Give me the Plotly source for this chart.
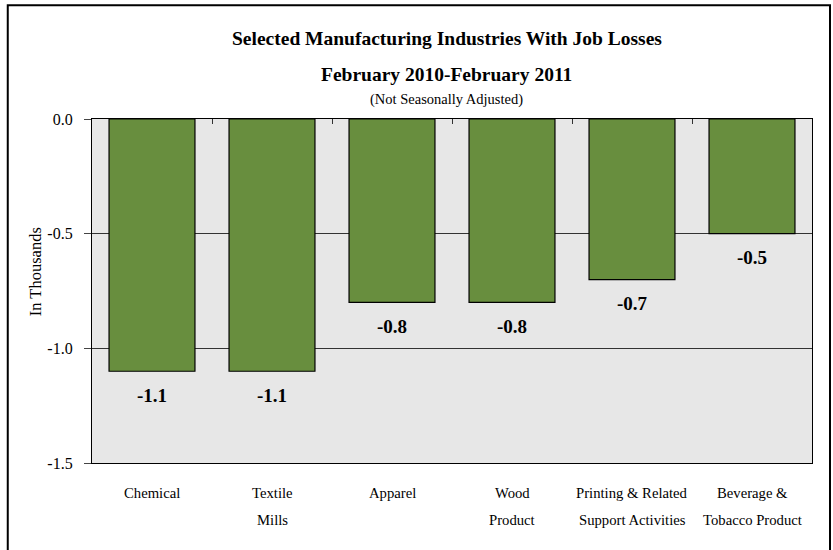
import plotly.graph_objects as go

categories = ["Chemical", "Textile<br>Mills", "Apparel", "Wood<br>Product",
              "Printing & Related<br>Support Activities", "Beverage &<br>Tobacco Product"]
values = [-1.1, -1.1, -0.8, -0.8, -0.7, -0.5]
value_labels = ["-1.1", "-1.1", "-0.8", "-0.8", "-0.7", "-0.5"]
y_tick_vals = [0.0, -0.5, -1.0, -1.5]
y_tick_text = ["0.0", "-0.5", "-1.0", "-1.5"]

title_line1 = "Selected Manufacturing Industries With Job Losses"
title_line2 = "February 2010-February 2011"
subtitle = "(Not Seasonally Adjusted)"
y_title = "In Thousands"

SERIF = "Liberation Serif"
BAR_COLOR = "#688E3E"

fig = go.Figure()
fig.add_trace(go.Bar(
    x=categories, y=values,
    marker=dict(color=BAR_COLOR, line=dict(color="#000000", width=1.2)),
    hoverinfo="skip",
))
# invisible trace carrying the top category axis (boundary ticks at the 0.0 line)
fig.add_trace(go.Scatter(
    x=categories, y=values, xaxis="x2", mode="markers",
    marker=dict(opacity=0), hoverinfo="skip", showlegend=False,
))

annotations = []
# data labels below bar ends
for cat, val, lab in zip(categories, values, value_labels):
    annotations.append(dict(x=cat, y=val, xref="x", yref="y", text="<b>%s</b>" % lab,
                            showarrow=False, yanchor="middle", yshift=-24,
                            font=dict(family=SERIF, size=19, color="#000000")))
# category labels (two-line)
for cat in categories:
    for j, line in enumerate(cat.split("<br>")):
        annotations.append(dict(x=cat, y=0, xref="x", yref="paper", text=line,
                                showarrow=False, yanchor="middle", yshift=-30 - 27 * j,
                                font=dict(family=SERIF, size=14.7, color="#000000")))
# titles
annotations += [
    dict(x=0.493, y=1.233, xref="paper", yref="paper", text="<b>%s</b>" % title_line1,
         showarrow=False, yanchor="middle", font=dict(family=SERIF, size=19.5, color="#000000")),
    dict(x=0.493, y=1.13, xref="paper", yref="paper", text="<b>%s</b>" % title_line2,
         showarrow=False, yanchor="middle", font=dict(family=SERIF, size=19.5, color="#000000")),
    dict(x=0.493, y=1.058, xref="paper", yref="paper", text=subtitle,
         showarrow=False, yanchor="middle", font=dict(family=SERIF, size=14.5, color="#000000")),
    dict(x=-0.079, y=0.555, xref="paper", yref="paper", text=y_title, textangle=-90,
         showarrow=False, xanchor="center", yanchor="middle",
         font=dict(family=SERIF, size=16.5, color="#000000")),
]

fig.update_layout(
    width=833, height=550,
    margin=dict(l=92, r=21, t=119, b=87),
    paper_bgcolor="#FFFFFF",
    plot_bgcolor="#E7E7E7",
    bargap=0.284,
    showlegend=False,
    annotations=annotations,
    font=dict(family=SERIF),
    shapes=[dict(type="rect", xref="paper", yref="paper",
                 x0=-0.117, x1=1.025, y0=-0.35, y1=1.331,
                 line=dict(color="#000000", width=2), fillcolor="rgba(0,0,0,0)", layer="below")],
    xaxis2=dict(overlaying="x", side="top", range=[-0.5, 5.5], type="category",
                tickson="boundaries", ticks="inside", ticklen=5, tickcolor="#333333",
                showticklabels=False, showgrid=False, zeroline=False, showline=False),
)
fig.update_xaxes(selector=dict(anchor="y"), showticklabels=False, showgrid=False, zeroline=False,
                 showline=True, linecolor="#000000", linewidth=1.2, mirror=True, ticks="")
fig.update_layout(xaxis=dict(showticklabels=False, showgrid=False, zeroline=False,
                             showline=True, linecolor="#000000", linewidth=1.2, mirror=True,
                             ticks="", range=[-0.5, 5.5]))
fig.update_yaxes(range=[-1.5, 0.0], tickvals=y_tick_vals, ticktext=y_tick_text,
                 showgrid=True, gridcolor="#333333", gridwidth=1, zeroline=False,
                 showline=True, linecolor="#000000", linewidth=1.2, mirror=True,
                 ticks="outside", ticklen=7, tickcolor="#444444", ticklabelstandoff=8,
                 tickfont=dict(family=SERIF, size=16, color="#000000"))

fig.write_html("out.html", config={"displayModeBar": False},
               post_script="document.body.style.margin='0';document.body.style.padding='0';")
